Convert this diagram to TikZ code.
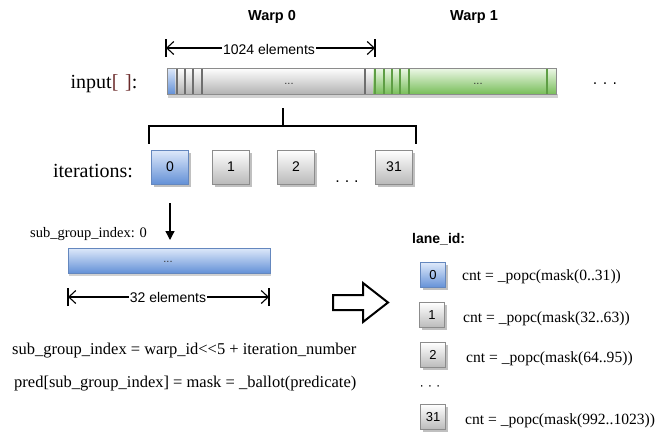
\documentclass[tikz,border=0pt]{standalone}
\usepackage{fontspec}
\setmainfont{Liberation Serif}
\setsansfont{Liberation Sans}
\newfontfamily\dotfont{DejaVu Sans}
\usetikzlibrary{arrows.meta,shadows}

\newcommand\fsz[1]{\fontsize{#1}{#1}\selectfont}

\definecolor{bordergrey}{HTML}{8C8C8C}
\definecolor{sepgrey}{HTML}{6E6E6E}
\definecolor{sepgreen}{HTML}{5E9E44}
\definecolor{bracketred}{HTML}{6B2A2A}
\definecolor{greentop}{HTML}{EEF8E8}
\definecolor{greenmid}{RGB}{176,224,150}
\definecolor{greenbot}{RGB}{120,190,90}
\definecolor{bluetop}{RGB}{222,233,250}
\definecolor{bluemid}{RGB}{160,192,238}
\definecolor{bluebot}{RGB}{100,145,215}
\definecolor{blueedge}{RGB}{100,135,190}

\tikzset{
  greybar/.style={top color=white, middle color=black!10, bottom color=black!30},
  greenbar/.style={top color=greentop, middle color=greenmid, bottom color=greenbot},
  bluebar/.style={top color=bluetop, middle color=bluemid, bottom color=bluebot},
  boxshadow/.style={drop shadow={shadow xshift=2.5pt, shadow yshift=-2.5pt, fill=black!45, opacity=.55}},
  itbox/.style={draw=bordergrey, line width=.6pt, top color=white, bottom color=black!27,
    minimum width=37pt, minimum height=34pt, inner sep=0pt, boxshadow,
    font=\sffamily\fsz{14}},
  itblue/.style={itbox, draw=blueedge, bluebar},
  lanebox/.style={itbox, minimum width=25pt, minimum height=25pt, font=\sffamily\fsz{13}},
  laneblue/.style={lanebox, draw=blueedge, bluebar},
  dimline/.style={line width=1.1pt, {Straight Barb[length=7pt,width=13pt,line width=1.1pt]}-{Straight Barb[length=7pt,width=13pt,line width=1.1pt]}},
  dimend/.style={line width=1.1pt},
  dimlabel/.style={fill=white, inner sep=1pt, font=\sffamily\fsz{14}},
  sep/.style={line width=1.2pt, sepgrey},
  sepg/.style={line width=1.2pt, sepgreen},
  serif/.style={font=\fsz{#1}, inner sep=0pt},
  head/.style={font=\sffamily\bfseries\fsz{14.5}, inner sep=0pt},
  bardots/.style={font=\sffamily\fsz{11}, inner sep=0pt, text=black!80},
  bracket/.style={line width=1.8pt, line cap=rect},
}

\begin{document}
\begin{tikzpicture}[x=1pt,y=-1pt]
\useasboundingbox (0,0) rectangle (658,432);

% ---- headings ----
\node[head] (w0) at (272,17) {Warp 0};
\node[head] (w1) at (474,17) {Warp 1};

% ---- 1024 elements dimension ----
\coordinate (d1l) at (166,48);
\coordinate (d1r) at (375,48);
\draw[dimend] ([yshift=-9pt]d1l) -- ([yshift=9pt]d1l);
\draw[dimend] ([yshift=-9pt]d1r) -- ([yshift=9pt]d1r);
\draw[dimline] (d1l) -- (d1r);
\node[dimlabel] (d1lab) at (269,49) {1024 elements};

% ---- input array bar ----
\fill[black!18] (168,94) rectangle (558,97.5);
\shade[greybar] (175,68) rectangle (373,94);
\shade[bluebar] (167,68) rectangle (175,94);
\shade[greenbar] (373,68) rectangle (556,94);
\draw[bordergrey, line width=.5pt] (167,68) rectangle (556,94);
\foreach \x in {177,185,193,202,365} \draw[sep] (\x,68.5) -- (\x,93.5);
\foreach \x in {375,384,392,400,409,547} \draw[sepg] (\x,68.5) -- (\x,93.5);
\node[bardots] (g0dots) at (289,84) {...};
\node[bardots] (g1dots) at (478,84) {...};
\node[font=\dotfont\fsz{14}, inner sep=0pt] (moredots) at (605,86) {·\hspace{5.5pt}·\hspace{5.5pt}·};

\node[serif=20, anchor=base] (inlab) at (104,88) {input\textcolor{bracketred}{[\,\,]}:};

% ---- iteration boxes ----
\node[itblue] (it0) at (170,167) {0};
\node[itbox] (it1) at (231,167) {1};
\node[itbox] (it2) at (296,167) {2};
\node[itbox] (it31) at (394,167) {31};
\node[font=\sffamily\fsz{16}, inner sep=0pt, anchor=base] (itdots) at (347,182) {.\hspace{5pt}.\hspace{5pt}.};
\node[serif=20, anchor=base] (itlab) at (93,177) {iterations:};

% bracket from the input bar down to the iteration boxes
\coordinate (stem) at (283,109);
\coordinate (bl) at (149,143);
\coordinate (br) at (416,143);
\draw[bracket] (stem) -- (283,126);
\draw[bracket] (bl) -- (149,126) -- (416,126) -- (br);

% ---- sub-group ----
\coordinate (dtop) at (170,203);
\coordinate (dbot) at (170,240);
\draw[line width=1.3pt, -{Triangle[length=9pt,width=9pt]}] (dtop) -- (dbot);
\node[serif=14.5, anchor=base west] (sglab) at (30,237) {sub\_group\_index: 0};

\fill[black!18] (69,272) rectangle (271,275.5);
\shade[bluebar] (68,248) rectangle (270,273);
\draw[blueedge, line width=.5pt] (68,248) rectangle (270,273);
\node[bardots] (sgdots) at (168,262) {...};

\coordinate (d2l) at (68,297);
\coordinate (d2r) at (269,297);
\draw[dimend] ([yshift=-9pt]d2l) -- ([yshift=9pt]d2l);
\draw[dimend] ([yshift=-9pt]d2r) -- ([yshift=9pt]d2r);
\draw[dimline] (d2l) -- (d2r);
\node[dimlabel] (d2lab) at (168,297) {32 elements};

% ---- formulas ----
\node[serif=16.5, anchor=base west] (f1) at (12,354) {sub\_group\_index = warp\_id<{}<5 + iteration\_number};
\node[serif=16.5, anchor=base west] (f2) at (14,387) {pred[sub\_group\_index] = mask = \_ballot(predicate)};

% ---- hollow arrow ----
\draw[line width=2pt, line join=miter] (333,295) -- (363,295) -- (363,283) -- (388,302.5)
  -- (363,322) -- (363,310) -- (333,310) -- cycle;

% ---- lanes ----
\node[font=\sffamily\bfseries\fsz{14}, inner sep=0pt, anchor=base west] (lanelab) at (412,243) {lane\_id:};
\node[laneblue] (l0) at (433,275) {0};
\node[lanebox] (l1) at (432,315) {1};
\node[lanebox] (l2) at (433,355) {2};
\node[lanebox] (l31) at (433,417) {31};
\node[font=\dotfont\fsz{12}, inner sep=0pt] (ldots) at (430,388) {·\hspace{4.5pt}·\hspace{4.5pt}·};
\node[serif=15.6, anchor=base west] (c0) at (462,280) {cnt = \_popc(mask(0..31))};
\node[serif=15.6, anchor=base west] (c1) at (463,322) {cnt = \_popc(mask(32..63))};
\node[serif=15.6, anchor=base west] (c2) at (466,362) {cnt = \_popc(mask(64..95))};
\node[serif=15.6, anchor=base west] (c31) at (465,424) {cnt = \_popc(mask(992..1023))};
\end{tikzpicture}
\end{document}
